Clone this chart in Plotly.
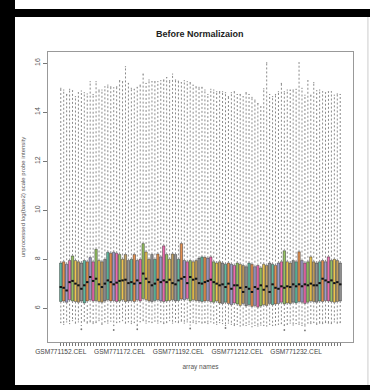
import plotly.graph_objects as go

# ---------------- data ----------------
sample_names = [f"GSM{771152 + k}.CEL" for k in range(96)]
sample_pos = list(range(1, 97))

medians = [
    6.87, 6.84, 6.73, 7.07, 7.12, 7.01, 6.94, 6.80, 6.94, 7.07,
    7.28, 7.12, 7.21, 6.98, 6.87, 7.01, 7.14, 7.07, 6.98, 7.05,
    7.12, 7.14, 7.17, 7.03, 7.07, 7.01, 7.14, 7.03, 7.42, 7.21,
    7.07, 6.94, 7.01, 7.17, 7.07, 7.14, 7.07, 7.17, 7.03, 6.98,
    7.14, 7.21, 7.28, 7.03, 7.28, 7.17, 7.21, 7.03, 7.01, 7.07,
    7.12, 7.17, 7.07, 7.01, 6.94, 6.98, 6.87, 7.01, 6.80, 6.94,
    6.94, 6.84, 6.67, 6.87, 6.80, 6.67, 6.87, 6.80, 6.94, 6.76,
    6.90, 6.67, 6.98, 6.84, 6.80, 6.90, 6.84, 6.90, 6.87, 6.98,
    6.90, 6.98, 6.90, 6.98, 6.94, 7.01, 6.94, 6.94, 7.03, 7.21,
    7.14, 7.07, 7.14, 7.03, 7.07, 6.98,
]
q1 = [
    6.28, 6.30, 6.25, 6.35, 6.30, 6.28, 6.25, 6.30, 6.22, 6.30,
    6.35, 6.30, 6.32, 6.28, 6.25, 6.30, 6.35, 6.30, 6.32, 6.28,
    6.30, 6.35, 6.28, 6.30, 6.32, 6.28, 6.35, 6.30, 6.40, 6.35,
    6.30, 6.28, 6.32, 6.35, 6.30, 6.28, 6.30, 6.32, 6.35, 6.30,
    6.32, 6.38, 6.35, 6.40, 6.30, 6.35, 6.32, 6.30, 6.28, 6.30,
    6.32, 6.28, 6.25, 6.30, 6.22, 6.20, 6.25, 6.20, 6.15, 6.22,
    6.18, 6.12, 6.20, 6.10, 6.15, 6.08, 6.12, 6.05, 6.10, 6.15,
    6.12, 6.20, 6.15, 6.18, 6.20, 6.25, 6.18, 6.22, 6.20, 6.25,
    6.22, 6.28, 6.25, 6.20, 6.25, 6.30, 6.28, 6.25, 6.30, 6.28,
    6.32, 6.30, 6.28, 6.25, 6.28, 6.30,
]
q3 = [
    7.85, 7.90, 7.80, 7.95, 8.14, 7.95, 7.90, 7.85, 7.95, 7.90,
    8.07, 7.90, 8.41, 7.95, 7.90, 8.00, 8.29, 8.25, 8.29, 8.25,
    8.20, 8.00, 8.20, 7.95, 8.00, 8.20, 7.95, 8.00, 8.64, 8.30,
    8.00, 8.20, 8.00, 8.22, 8.10, 8.55, 8.20, 8.00, 8.22, 8.20,
    8.00, 8.64, 7.95, 7.90, 7.95, 7.90, 7.95, 8.05, 8.10, 8.08,
    8.05, 8.10, 7.90, 7.85, 7.90, 7.85, 7.80, 7.85, 7.80, 7.75,
    7.85, 7.80, 7.75, 7.70, 7.85, 7.80, 7.70, 7.75, 7.65, 7.80,
    7.75, 7.85, 7.80, 7.75, 7.85, 7.90, 8.35, 7.90, 7.85, 7.95,
    7.90, 8.31, 7.95, 7.85, 7.90, 8.10, 7.90, 7.85, 7.90, 7.95,
    7.90, 8.10, 7.95, 8.00, 7.95, 7.85,
]
upper_whisker = [
    14.97, 14.90, 14.72, 14.93, 14.87, 14.63, 14.79, 14.86, 14.79, 14.74,
    15.24, 14.72, 15.24, 14.90, 14.90, 15.03, 15.10, 15.03, 14.99, 15.03,
    15.28, 15.24, 15.85, 15.17, 14.97, 14.93, 15.01, 15.10, 15.55, 15.17,
    15.31, 15.24, 15.24, 15.24, 15.28, 15.31, 15.41, 15.28, 15.55, 15.31,
    15.26, 15.20, 15.28, 15.24, 15.20, 15.10, 15.03, 15.01, 15.01, 14.90,
    14.72, 14.93, 14.90, 14.83, 14.83, 14.83, 14.79, 14.63, 14.79, 14.83,
    14.72, 14.72, 14.63, 14.79, 14.72, 14.60, 14.49, 14.35, 14.22, 14.95,
    16.01, 14.72, 14.63, 14.72, 14.83, 15.17, 14.83, 14.90, 14.90, 14.90,
    14.93, 16.01, 14.97, 14.69, 15.28, 14.69, 15.20, 14.87, 14.90, 14.83,
    14.79, 14.83, 14.83, 14.69, 14.74, 14.72,
]
lower_whisker = [
    5.42, 5.35, 5.45, 5.38, 5.50, 5.40, 5.45, 5.30, 5.48, 5.40,
    5.45, 5.38, 5.42, 5.50, 5.35, 5.45, 5.40, 5.48, 5.30, 5.42,
    5.45, 5.50, 5.40, 5.45, 5.38, 5.42, 5.30, 5.45, 5.50, 5.40,
    5.45, 5.42, 5.48, 5.40, 5.45, 5.38, 5.42, 5.50, 5.40, 5.45,
    5.42, 5.48, 5.40, 5.45, 5.32, 5.42, 5.38, 5.45, 5.40, 5.42,
    5.38, 5.45, 5.40, 5.35, 5.42, 5.38, 5.30, 5.40, 5.35, 5.30,
    5.35, 5.28, 5.32, 5.30, 5.35, 5.25, 5.30, 5.28, 5.32, 5.30,
    5.28, 5.35, 5.30, 5.32, 5.35, 5.38, 5.30, 5.35, 5.40, 5.32,
    5.38, 5.35, 5.30, 5.28, 5.40, 5.38, 5.42, 5.35, 5.40, 5.38,
    5.42, 5.40, 5.38, 5.45, 5.40, 5.42,
]
outlier_pos = [8, 19, 27, 45, 57, 77, 84]
outlier_val = [5.15, 5.12, 5.15, 5.18, 5.20, 5.12, 5.10]

palette = ["#1B9E77", "#D95F02", "#7570B3", "#E7298A",
           "#66A61E", "#E6AB02", "#A6761D", "#666666"]

y_ticks = [6, 8, 10, 12, 14, 16]
label_every = 20


def rgba(hex_color, a):
    h = hex_color.lstrip("#")
    r, g, b = int(h[0:2], 16), int(h[2:4], 16), int(h[4:6], 16)
    return f"rgba({r},{g},{b},{a})"


fig = go.Figure()

# whiskers (dashed, R style)
wx, wy = [], []
for i, p in enumerate(sample_pos):
    wx += [p, p, None, p, p, None]
    wy += [q3[i], upper_whisker[i], None, q1[i], lower_whisker[i], None]
fig.add_trace(go.Scatter(x=wx, y=wy, mode="lines", hoverinfo="skip",
                         line=dict(color="#8a8a8a", width=1, dash="2px,2px"),
                         showlegend=False))

# staples
sx, sy = [], []
for i, p in enumerate(sample_pos):
    sx += [p - 0.2, p + 0.2, None, p - 0.2, p + 0.2, None]
    sy += [upper_whisker[i], upper_whisker[i], None,
           lower_whisker[i], lower_whisker[i], None]
fig.add_trace(go.Scatter(x=sx, y=sy, mode="lines", hoverinfo="skip",
                         line=dict(color="#888888", width=1),
                         showlegend=False))

# boxes, one trace per colour
for k, col in enumerate(palette):
    idx = [i for i in range(len(sample_pos)) if i % len(palette) == k]
    fig.add_trace(go.Box(
        x=[sample_pos[i] for i in idx],
        q1=[q1[i] for i in idx],
        median=[medians[i] for i in idx],
        q3=[q3[i] for i in idx],
        lowerfence=[q1[i] for i in idx],
        upperfence=[q3[i] for i in idx],
        width=0.8,
        whiskerwidth=0,
        fillcolor=rgba(col, 0.7),
        line=dict(color="rgba(40,40,40,0.8)", width=0.6),
        boxpoints=False,
        showlegend=False,
    ))

# thick medians
mx, my = [], []
for i, p in enumerate(sample_pos):
    mx += [p - 0.4, p + 0.4, None]
    my += [medians[i], medians[i], None]
fig.add_trace(go.Scatter(x=mx, y=my, mode="lines", hoverinfo="skip",
                         line=dict(color="#111111", width=2),
                         showlegend=False))

# outliers
fig.add_trace(go.Scatter(x=outlier_pos, y=outlier_val, mode="markers",
                         marker=dict(symbol="circle", size=1.8,
                                     color="#777777"),
                         showlegend=False, hoverinfo="skip"))

tick_text = [n if i % label_every == 0 else "" for i, n in enumerate(sample_names)]

font_family = "Liberation Sans, Arial, sans-serif"

# picture frame: black page background, white sheet on top of it
frame = [
    dict(type="rect", xref="paper", yref="paper", x0=-0.1082, x1=1.07,
         y0=-0.1483, y1=1.1207, fillcolor="white", line=dict(width=0),
         layer="below"),
    dict(type="rect", xref="paper", yref="paper", x0=-0.1082, x1=1.07,
         y0=1.1483, y1=1.2, fillcolor="white", line=dict(width=0),
         layer="below"),
    dict(type="line", xref="paper", yref="paper", x0=1.049, x1=1.049,
         y0=-0.1483, y1=1.1207, line=dict(color="#cccccc", width=1),
         layer="below"),
]

fig.update_layout(
    width=370, height=390,
    margin=dict(l=48, r=17, t=52, b=48),
    paper_bgcolor="black", plot_bgcolor="white",
    boxmode="overlay",
    font=dict(family=font_family, color="#444444", size=7),
    title=dict(text="<b>Before Normalizaion</b>", x=0.54, xanchor="center",
               y=0.913, yanchor="middle",
               font=dict(size=9, color="#222222", family=font_family)),
    shapes=frame,
    xaxis=dict(
        range=[-3.34, 100.34], tickmode="array", tickvals=sample_pos,
        ticktext=tick_text, ticks="outside", ticklen=3, tickwidth=0.6,
        tickcolor="#777777", tickangle=0, showgrid=False, zeroline=False,
        showline=True, linecolor="#999999", linewidth=1, mirror=True,
        tickfont=dict(size=6.6, color="#444444"),
        title=dict(text="array names", standoff=10,
                   font=dict(size=6.5, color="#555555")),
    ),
    yaxis=dict(
        range=[4.63, 16.45], tickmode="array", tickvals=y_ticks,
        ticks="outside", ticklen=4, tickwidth=0.6, tickcolor="#777777",
        tickangle=-90, showgrid=False, zeroline=False,
        showline=True, linecolor="#999999", linewidth=1, mirror=True,
        tickfont=dict(size=7, color="#555555"),
        title=dict(text="unprocessed log(base2) scale probe intensity",
                   standoff=8, font=dict(size=6, color="#555555")),
    ),
)

fig.write_html("out.html")
